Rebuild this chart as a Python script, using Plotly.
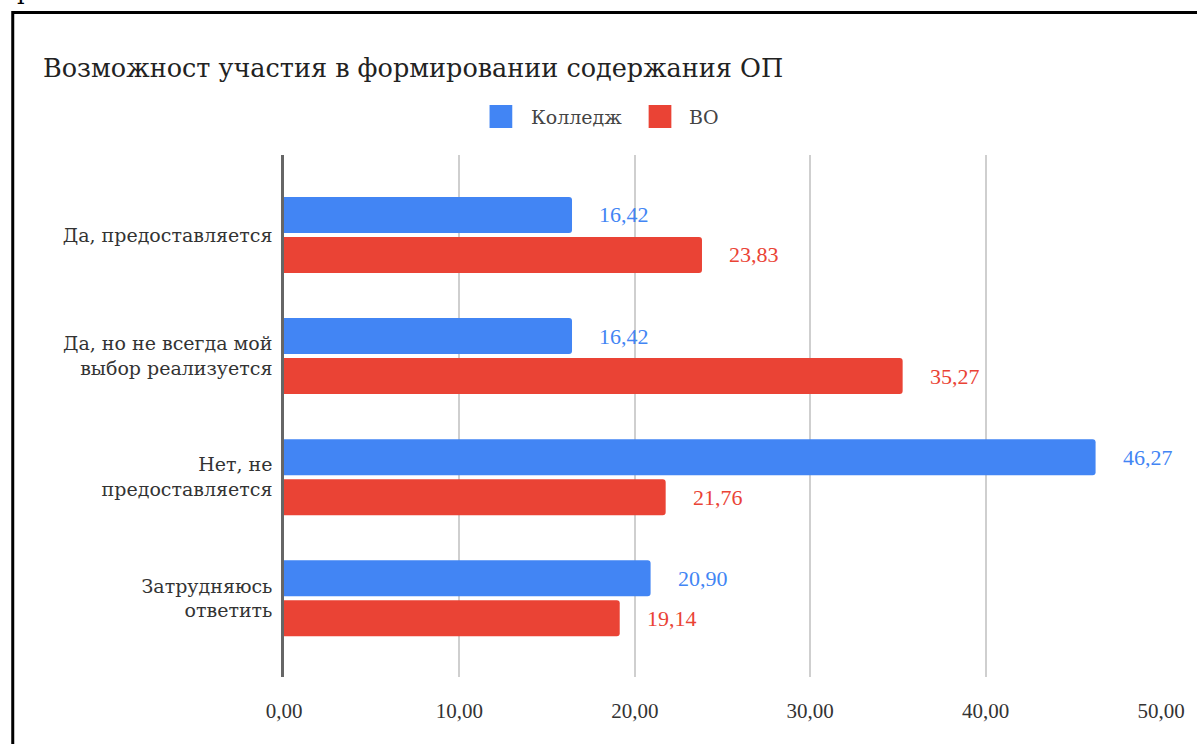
import plotly.graph_objects as go

categories = ["Да, предоставляется", "Да, но не всегда мой<br>выбор реализуется",
              "Нет, не<br>предоставляется", "Затрудняюсь<br>ответить"]
series_names = ["Колледж", "ВО"]
college = [16.42, 16.42, 46.27, 20.90]
vo = [23.83, 35.27, 21.76, 19.14]
tick_vals = [0, 10, 20, 30, 40, 50]
tick_text = ["0,00", "10,00", "20,00", "30,00", "40,00", "50,00"]
title_text = "Возможност участия в формировании содержания ОП"

BLUE = "#4285F4"
RED = "#EA4335"
CYR_FONT = "DejaVu Serif"      # serif face with Cyrillic glyphs
NUM_FONT = "Liberation Serif"  # Times-like digits

W, H = 1197, 744
L, R, T, B = 284, 1171.5, 155, 677


def px(x):
    return (x - L) / (R - L)


def py(y):
    return (B - y) / (B - T)


fig = go.Figure()
for name, vals, col in [(series_names[0], college, BLUE), (series_names[1], vo, RED)]:
    fig.add_trace(go.Bar(y=categories, x=vals, name=name, orientation="h",
                         marker=dict(color=col, line=dict(width=0)), showlegend=False))

annotations = []
for vals, col, shift in [(college, BLUE, 20), (vo, RED, -20)]:
    for c, v in zip(categories, vals):
        annotations.append(dict(x=v, y=c, xref="x", yref="y", text=f"{v:.2f}".replace(".", ","),
                                showarrow=False, xanchor="left", yanchor="middle",
                                xshift=25, yshift=shift,
                                font=dict(family=NUM_FONT, size=22, color=col)))

# title
annotations.append(dict(x=px(38), y=py(68), xref="paper", yref="paper", text=title_text,
                        showarrow=False, xanchor="left", yanchor="middle",
                        font=dict(family=CYR_FONT, size=25.5, color="#222222")))
# legend texts
annotations.append(dict(x=px(532), y=py(117), xref="paper", yref="paper", text=series_names[0],
                        showarrow=False, xanchor="left", yanchor="middle",
                        font=dict(family=CYR_FONT, size=19, color="#444444")))
annotations.append(dict(x=px(692), y=py(117), xref="paper", yref="paper", text=series_names[1],
                        showarrow=False, xanchor="left", yanchor="middle",
                        font=dict(family=CYR_FONT, size=19, color="#444444")))
# stray glyph fragment at top-left (part of text above the chart)
annotations.append(dict(x=px(12), y=py(7), xref="paper", yref="paper", text="р",
                        showarrow=False, xanchor="left", yanchor="bottom",
                        font=dict(family=CYR_FONT, size=24, color="#000000")))

shapes = [
    dict(type="rect", xref="paper", yref="paper", x0=px(492), x1=px(515), y0=py(128), y1=py(105),
         fillcolor=BLUE, line=dict(width=0)),
    dict(type="rect", xref="paper", yref="paper", x0=px(653), x1=px(676), y0=py(128), y1=py(105),
         fillcolor=RED, line=dict(width=0)),
    # outer frame
    dict(type="rect", xref="paper", yref="paper", x0=px(9.5), x1=px(1220), y0=py(770), y1=py(12.5),
         line=dict(color="#000000", width=3), fillcolor="rgba(0,0,0,0)"),
]

fig.update_layout(
    width=W, height=H,
    margin=dict(l=L, r=W - R, t=T, b=H - B, pad=0),
    paper_bgcolor="white", plot_bgcolor="white",
    font=dict(family=CYR_FONT),
    barmode="group", bargap=0.34, bargroupgap=0.1, barcornerradius=3,
    showlegend=False,
    xaxis=dict(range=[0, 50], tickvals=tick_vals, ticktext=tick_text,
               showgrid=True, gridcolor="#cfcfcf", gridwidth=1.5,
               zeroline=False, showline=False, ticks="",
               tickfont=dict(family=NUM_FONT, size=21, color="#333333"),
               ticklabelstandoff=19),
    yaxis=dict(autorange=False, range=[3.65, -0.66], categoryorder="array", categoryarray=categories,
               showgrid=False, zeroline=False, showline=True, linecolor="#666666", linewidth=2.5,
               ticks="", ticklabelstandoff=5,
               tickfont=dict(family=CYR_FONT, size=19, color="#333333")),
    annotations=annotations,
    shapes=shapes,
)

fig.write_html("out.html", config={"displayModeBar": False},
               post_script="document.body.style.margin='0px';document.body.style.overflow='hidden';")
